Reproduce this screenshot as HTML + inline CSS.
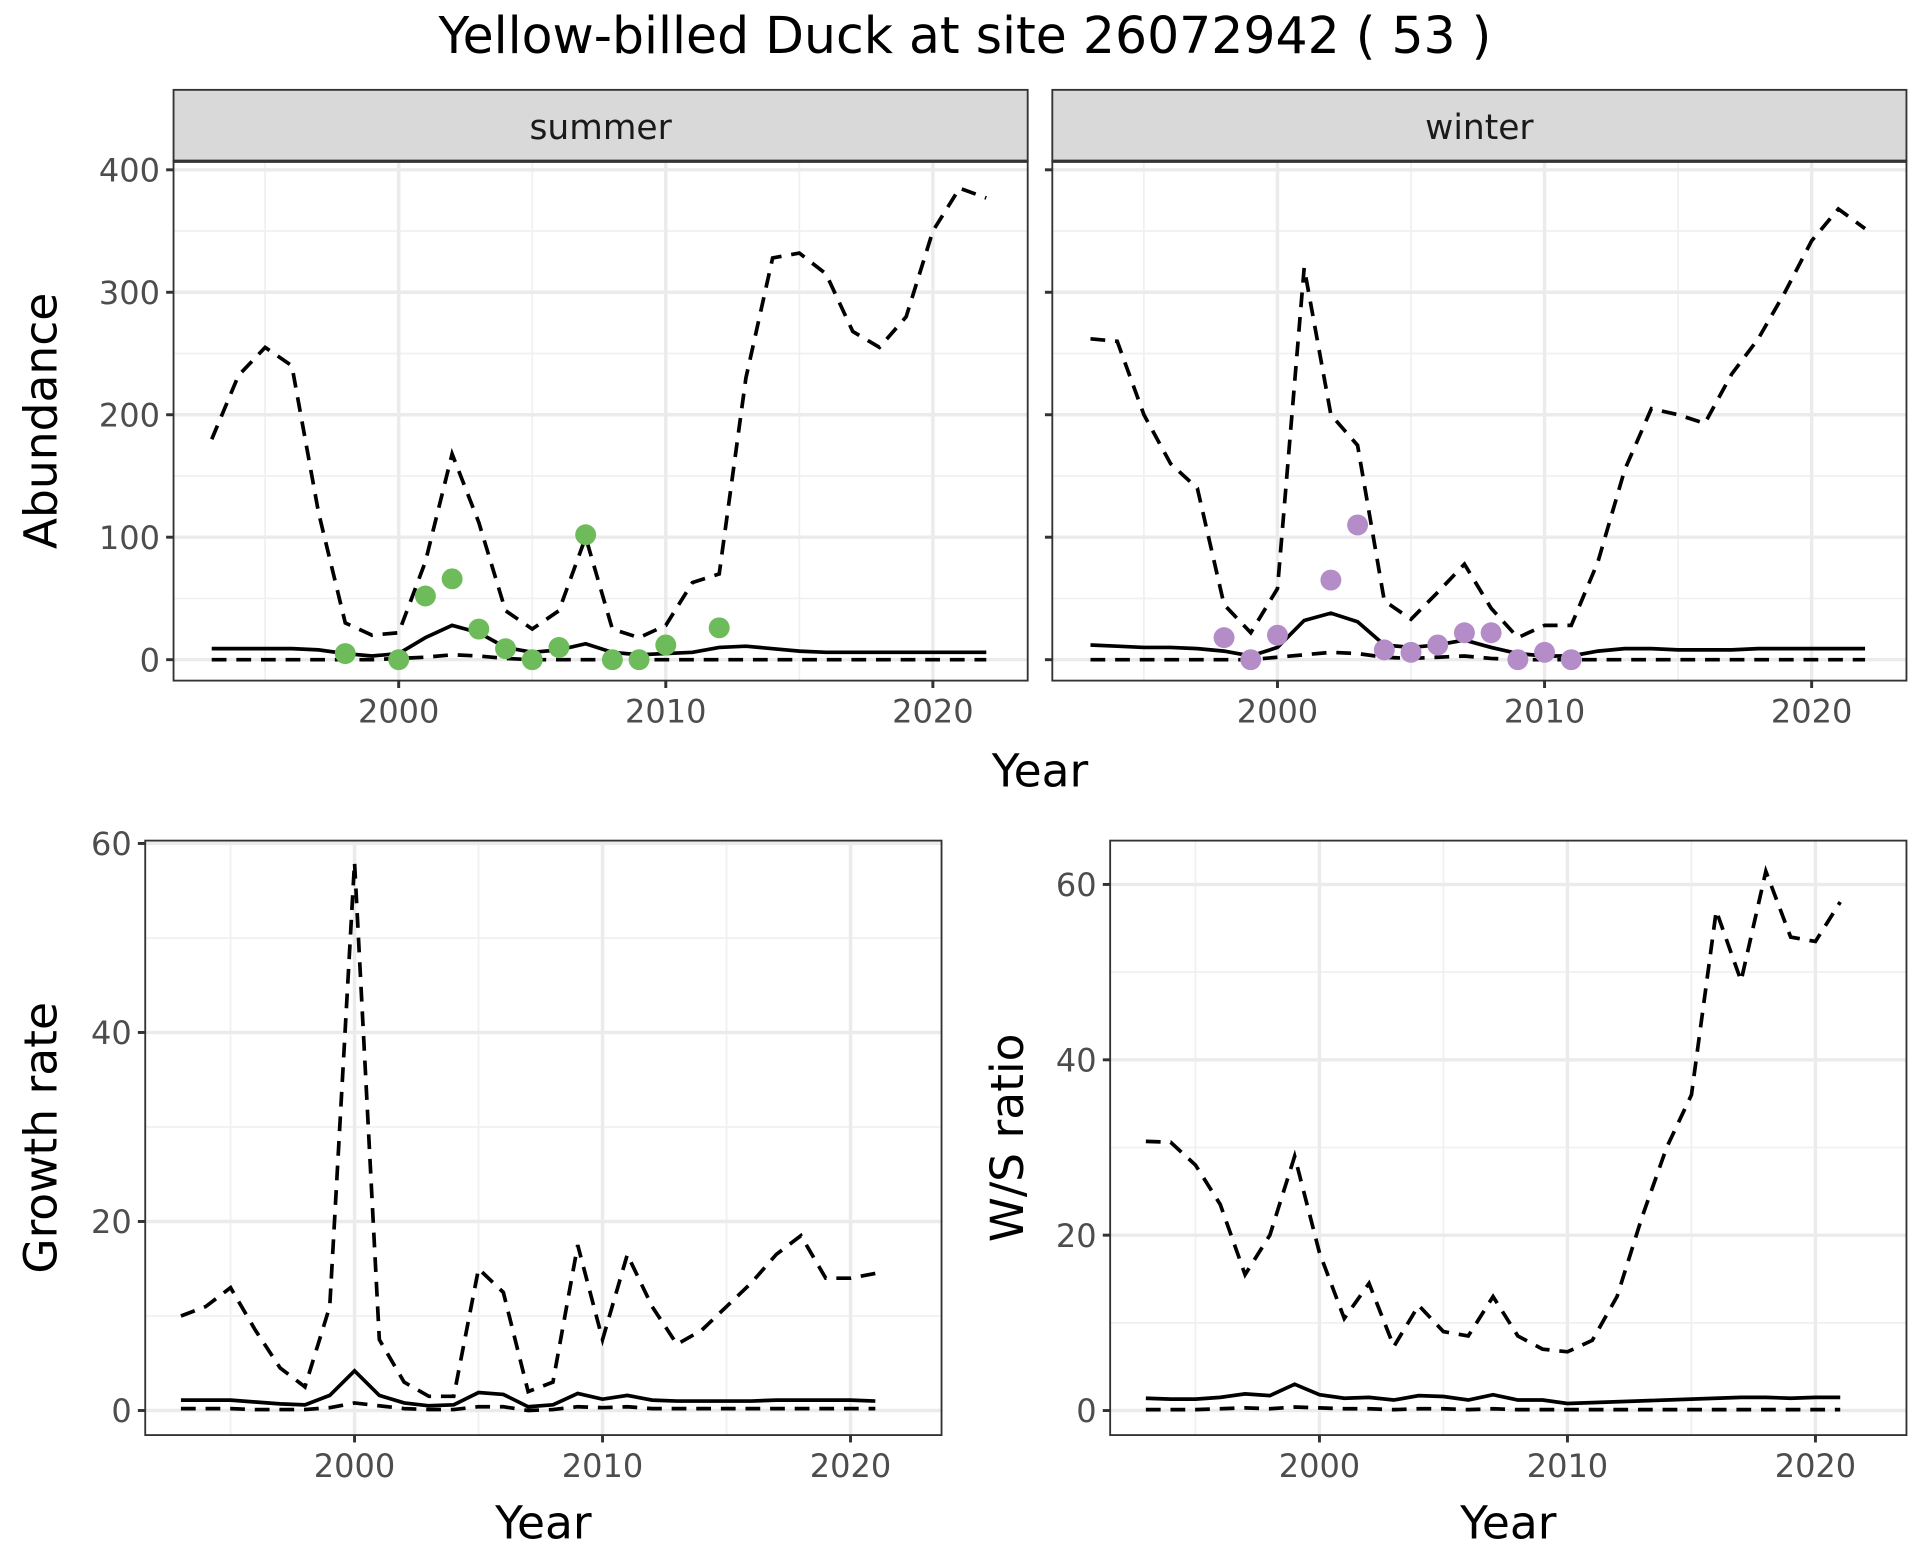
<!DOCTYPE html>
<html><head><meta charset="utf-8"><style>
html,body{margin:0;padding:0;background:#fff;}
svg{display:block;font-family:"DejaVu Sans","Liberation Sans",sans-serif;}
</style></head><body>
<svg id="c" width="1920" height="1560" viewBox="0 0 1560 1267.5" preserveAspectRatio="none" xmlns="http://www.w3.org/2000/svg">
<rect width="1560" height="1267.5" fill="#fff"/>
<text x="784" y="43" font-size="41" text-anchor="middle" fill="#000">Yellow-billed Duck at site 26072942 ( 53 )</text>
</svg>
<script>
const yearsA = [1993,1994,1995,1996,1997,1998,1999,2000,2001,2002,2003,2004,2005,2006,2007,2008,2009,2010,2011,2012,2013,2014,2015,2016,2017,2018,2019,2020,2021,2022];
const summerUpper = [180,232,255,240,120,30,20,22,80,168,112,40,25,40,100,25,18,28,63,70,230,328,332,315,268,255,280,350,385,377];
const summerMean = [9,9,9,9,8,5,3,5,18,28,22,10,6,8,13,6,4,5,6,10,11,9,7,6,6,6,6,6,6,6];
const summerLower = [0,0,0,0,0,0,0,1,2,4,3,1,0,0,0,0,0,0,0,0,0,0,0,0,0,0,0,0,0,0];
const summerObsYears = [1998,2000,2001,2002,2003,2004,2005,2006,2007,2008,2009,2010,2012];
const summerObs = [5,0,52,66,25,9,0,10,102,0,0,12,26];
const winterUpper = [262,260,200,160,140,45,22,58,320,200,175,48,33,55,78,42,18,28,28,80,155,205,200,193,233,262,300,342,368,352];
const winterMean = [12,11,10,10,9,7,3,10,32,38,31,12,10,12,16,10,5,3,3,7,9,9,8,8,8,9,9,9,9,9];
const winterLower = [0,0,0,0,0,0,0,2,4,6,5,2,1,2,3,1,0,0,0,0,0,0,0,0,0,0,0,0,0,0];
const winterObsYears = [1998,1999,2000,2002,2003,2004,2005,2006,2007,2008,2009,2010,2011];
const winterObs = [18,0,20,65,110,8,6,12,22,22,0,6,0];
const yearsB = [1993,1994,1995,1996,1997,1998,1999,2000,2001,2002,2003,2004,2005,2006,2007,2008,2009,2010,2011,2012,2013,2014,2015,2016,2017,2018,2019,2020,2021];
const growthUpper = [10,11,13,8.5,4.5,2.5,11,58,7.5,3,1.5,1.5,15,12.5,2,3,17.5,7.5,16.5,11,7,8.5,11,13.5,16.5,18.5,14,14,14.5];
const growthMean = [1.1,1.1,1.1,0.9,0.7,0.6,1.6,4.2,1.6,0.8,0.5,0.6,1.9,1.7,0.4,0.6,1.8,1.2,1.6,1.1,1,1,1,1,1.1,1.1,1.1,1.1,1];
const growthLower = [0.2,0.2,0.2,0.1,0.1,0.1,0.3,0.8,0.5,0.2,0.1,0.1,0.4,0.4,0,0.1,0.4,0.3,0.4,0.2,0.2,0.2,0.2,0.2,0.2,0.2,0.2,0.2,0.2];
const ratioUpper = [30.7,30.6,28,23.5,15.5,20,29,18,10.5,14.5,7.3,12,9,8.5,13,8.5,7,6.7,8,13,22,30,36,57,49,61.5,54,53.5,58];
const ratioMean = [1.4,1.3,1.3,1.5,1.9,1.7,3,1.8,1.4,1.5,1.2,1.7,1.6,1.2,1.8,1.2,1.2,0.8,0.9,1,1.1,1.2,1.3,1.4,1.5,1.5,1.4,1.5,1.5];
const ratioLower = [0.1,0.1,0.1,0.2,0.3,0.2,0.4,0.3,0.2,0.2,0.1,0.2,0.2,0.1,0.2,0.1,0.1,0.1,0.1,0.1,0.1,0.1,0.1,0.1,0.1,0.1,0.1,0.1,0.1];
const xTicks = [2000,2010,2020];
const xMinor = [1995,2005,2015];
const abundTicks = [0,100,200,300,400];
const growthTicks = [0,20,40,60];
const ratioTicks = [0,20,40,60];

const svg = document.getElementById('c');
const NS = 'http://www.w3.org/2000/svg';
function el(tag, attrs, parent){const e=document.createElementNS(NS,tag);for(const k in attrs)e.setAttribute(k,attrs[k]);(parent||svg).appendChild(e);return e;}

function panel(o){
  const g = el('g',{});
  
  
  const sx = v => o.x0 + (v - o.xmin)/(o.xmax - o.xmin)*(o.x1 - o.x0);
  const sy = v => o.y1 - (v - o.ymin)/(o.ymax - o.ymin)*(o.y1 - o.y0);
  el('rect',{x:o.x0,y:o.y0,width:o.x1-o.x0,height:o.y1-o.y0,fill:'#fff'},g);
  xMinor.forEach(v=>el('line',{x1:sx(v),x2:sx(v),y1:o.y0,y2:o.y1,stroke:'#f0f0f0','stroke-width':1.4},g));
  o.yMinor.forEach(v=>el('line',{x1:o.x0,x2:o.x1,y1:sy(v),y2:sy(v),stroke:'#f0f0f0','stroke-width':1.4},g));
  xTicks.forEach(v=>el('line',{x1:sx(v),x2:sx(v),y1:o.y0,y2:o.y1,stroke:'#ebebeb','stroke-width':2.8},g));
  o.yTicks.forEach(v=>el('line',{x1:o.x0,x2:o.x1,y1:sy(v),y2:sy(v),stroke:'#ebebeb','stroke-width':2.8},g));
  const line = (xs, ys, dash, nm) => {
    const p = el('polyline',{points:xs.map((x,i)=>sx(x)+','+sy(ys[i])).join(' '),fill:'none',stroke:'#000','stroke-width':3,'stroke-dasharray':dash?'12,8':'none'},g);
    
    
  };
  line(o.xs,o.lower,true,'lower-bound-line');
  line(o.xs,o.mean,false,'mean-line');
  line(o.xs,o.upper,true,'upper-bound-line');
  if(o.px){o.px.forEach((x,i)=>{
    const c = el('circle',{cx:sx(x),cy:sy(o.py[i]),r:8.5,fill:o.pc},g);
    
    
  });}
  el('rect',{x:o.x0,y:o.y0,width:o.x1-o.x0,height:o.y1-o.y0,fill:'none',stroke:'#333','stroke-width':1.5},g);
  xTicks.forEach(v=>{
    el('line',{x1:sx(v),x2:sx(v),y1:o.y1,y2:o.y1+6,stroke:'#333','stroke-width':2.4},g);
    const t=el('text',{x:sx(v),y:o.y1+34,'font-size':26,'text-anchor':'middle',fill:'#4d4d4d'},g);t.textContent=v;
    
    
  });
  o.yTicks.forEach(v=>{
    el('line',{x1:o.x0-6,x2:o.x0,y1:sy(v),y2:sy(v),stroke:'#333','stroke-width':2.4},g);
    if(o.yLabels){const t=el('text',{x:o.x0-11,y:sy(v)+9.5,'font-size':26,'text-anchor':'end',fill:'#4d4d4d'},g);t.textContent=v;
    
    }
  });
  if(o.strip){
    const r=el('rect',{x:o.x0,y:o.y0-58,width:o.x1-o.x0,height:58,fill:'#d9d9d9',stroke:'#333','stroke-width':1.5},g);
    
    
    el('line',{x1:o.x0,x2:o.x1,y1:o.y0,y2:o.y0,stroke:'#333','stroke-width':2.6},g);
    const t=el('text',{x:(o.x0+o.x1)/2,y:o.y0-18,'font-size':28,'text-anchor':'middle',fill:'#1a1a1a'},g);t.textContent=o.strip;
    
    
  }
  if(o.ytitle){
    const t=el('text',{transform:`translate(${o.x0-o.ytOff},${(o.y0+o.y1)/2}) rotate(-90)`,'font-size':37,'text-anchor':'middle',fill:'#000'},g);t.textContent=o.ytitle;
    
    
  }
  if(o.xtitle){
    const t=el('text',{x:(o.x0+o.x1)/2,y:o.y1+84,'font-size':37,'text-anchor':'middle',fill:'#000'},g);t.textContent='Year';
    
    
  }
}
const topX = {xmin:1991.57,xmax:2023.55};
panel(Object.assign({name:'summer-panel',x0:141,x1:835,y0:131,y1:553,ymin:-17.1,ymax:407,yTicks:abundTicks,yMinor:[50,150,250,350],yLabels:true,strip:'summer',ytitle:'Abundance',ytOff:95,xs:yearsA,upper:summerUpper,mean:summerMean,lower:summerLower,px:summerObsYears,py:summerObs,pc:'#6dbb5a'},topX));
panel(Object.assign({name:'winter-panel',x0:855,x1:1549,y0:131,y1:553,ymin:-17.1,ymax:407,yTicks:abundTicks,yMinor:[50,150,250,350],yLabels:false,strip:'winter',xs:yearsA,upper:winterUpper,mean:winterMean,lower:winterLower,px:winterObsYears,py:winterObs,pc:'#b48cc8'},topX));
const ty=el('text',{x:845,y:639,'font-size':37,'text-anchor':'middle',fill:'#000'});ty.textContent='Year';


panel({name:'growth-rate-panel',x0:118,x1:765,y0:683,y1:1166,xmin:1991.56,xmax:2023.67,ymin:-2.6,ymax:60.3,yTicks:growthTicks,yMinor:[10,30,50],yLabels:true,ytitle:'Growth rate',ytOff:72,xtitle:true,xs:yearsB,upper:growthUpper,mean:growthMean,lower:growthLower});
panel({name:'ws-ratio-panel',x0:902,x1:1549,y0:683,y1:1166,xmin:1991.56,xmax:2023.67,ymin:-2.8,ymax:65,yTicks:ratioTicks,yMinor:[10,30,50],yLabels:true,ytitle:'W/S ratio',ytOff:71,xtitle:true,xs:yearsB,upper:ratioUpper,mean:ratioMean,lower:ratioLower});
</script>
</body></html>
